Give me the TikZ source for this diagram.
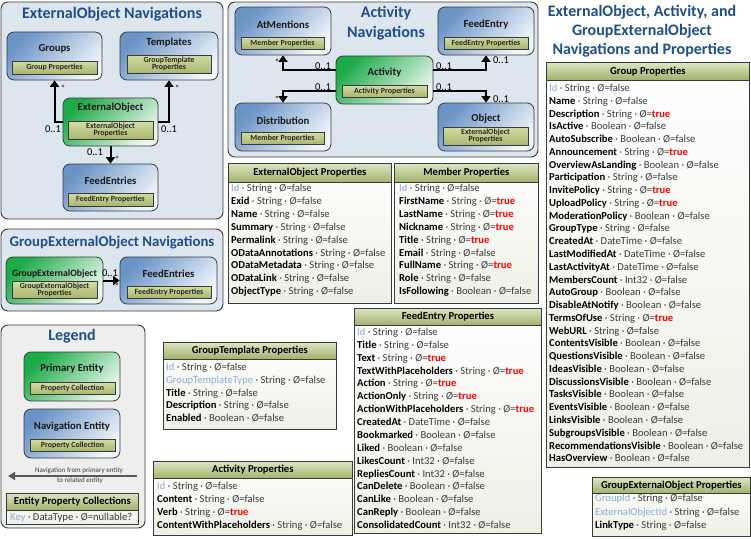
\documentclass[tikz,border=0pt]{standalone}
\usepackage{fontspec}
\setmainfont{Carlito}
\usetikzlibrary{arrows.meta}
\definecolor{ttl}{HTML}{1F4E8C}
\definecolor{keyc}{HTML}{8EA9DB}
\definecolor{dg}{HTML}{3A3A3A}
\definecolor{panelbg}{HTML}{DDE5EF}
\definecolor{legbg}{HTML}{EEEEEE}
\definecolor{navdark}{HTML}{6A93C6}
\definecolor{navlight}{HTML}{F0F5FA}
\definecolor{primdark}{HTML}{1DAA48}
\definecolor{primlight}{HTML}{E8F6EC}
\definecolor{olivetop}{HTML}{D3DDA6}
\definecolor{olivebot}{HTML}{A8B66C}
\definecolor{hdrtop}{HTML}{DCE5C2}
\definecolor{hdrbot}{HTML}{A1B16B}
\definecolor{tabbot}{HTML}{EDF0E5}
\definecolor{bord}{HTML}{3A3A3A}
\newcommand\valF{\textcolor{dg}{false}}
\newcommand\valT{\textcolor{red}{\textbf{true}}}
\newcommand\KR[3]{\textcolor{keyc}{#1} \textcolor{dg}{· #2 · Ø=}#3}
\newcommand\PR[3]{\textbf{#1} \textcolor{dg}{· #2 · Ø=}#3}
\newcommand\ptab[7]{%
  \node[ptab, anchor=north west, minimum width={#4-#2}, minimum height={#5-#3}] (#1) at (#2,#3) {};
  \node[phdr, anchor=north west, minimum width={#4-#2}, minimum height=#6] (#1-h) at (#2,#3) {#7};}
\newcommand\rows[5]{%
  \foreach \t [count=\i from 0] in {#5} {\node[prow] (#1\i) at (#2,{#3+#4*\i}) {\t};}}
\begin{document}
\begin{tikzpicture}[x=1pt,y=-1pt,
 panel/.style={draw=bord, line width=0.9pt, rounded corners=7pt, fill=panelbg},
 ptitle/.style={font=\bfseries\fontsize{16}{19}\selectfont, text=ttl, align=center, inner sep=0},
 navbox/.style={draw=bord, line width=0.8pt, rounded corners=7pt, top color=navdark, bottom color=navlight, shading angle=45, inner sep=0},
 primbox/.style={draw=bord, line width=0.8pt, rounded corners=7pt, top color=primdark, bottom color=primlight, shading angle=45, inner sep=0},
 etitle/.style={font=\bfseries\fontsize{10.7}{13}\selectfont, text=black!90, inner sep=0},
 ibox/.style={draw=bord, line width=0.6pt, top color=olivetop, bottom color=olivebot, font=\bfseries\fontsize{7.9}{7}\selectfont, align=center, inner sep=0, text=black!85},
 nav/.style={line width=2pt, -{Triangle[length=6.5pt,width=9pt]}},
 lbl/.style={font=\fontsize{10.5}{12}\selectfont, inner sep=0},
 star/.style={font=\fontsize{9}{10}\selectfont, inner sep=0},
 ptab/.style={draw=bord, line width=0.8pt, top color=white, bottom color=tabbot, inner sep=0},
 phdr/.style={draw=bord, line width=0.8pt, top color=hdrtop, bottom color=hdrbot, inner sep=0, font=\bfseries\fontsize{10.6}{12}\selectfont},
 prow/.style={anchor=west, inner sep=0, font=\fontsize{10.6}{12}\selectfont, text height=7pt, text depth=2pt}
]
\useasboundingbox (0,0) rectangle (751,538);
\fill[white] (0,0) rectangle (751,538);

% ---------- ExternalObject Navigations
\draw[panel] (1,2) rectangle (223,219);
\node[ptitle] (t1) at (112,14) {ExternalObject Navigations};
\node[navbox, minimum width=95, minimum height=48] (groups) at (54.5,56) {};
\node[etitle] (groups-t) at (54.5,49) {Groups};
\node[ibox, minimum width=85, minimum height=13] (groups-p) at (54.5,67.5) {Group Properties};
\node[navbox, minimum width=98, minimum height=48] (templates) at (169,56) {};
\node[etitle] (templates-t) at (169,43) {Templates};
\node[ibox, minimum width=84, minimum height=18] (templates-p) at (169,64) {GroupTemplate\\Properties};
\node[primbox, minimum width=95, minimum height=48] (eo) at (110.5,122) {};
\node[etitle] (eo-t) at (110.5,108) {ExternalObject};
\node[ibox, minimum width=85, minimum height=18] (eo-p) at (110.5,130) {ExternalObject\\Properties};
\node[navbox, minimum width=95, minimum height=47] (fe1) at (110.5,187.5) {};
\node[etitle] (fe1-t) at (110.5,181) {FeedEntries};
\node[ibox, minimum width=85, minimum height=13] (fe1-p) at (110.5,199.5) {FeedEntry Properties};
\draw[nav] (eo.west) -| (groups.south);
\draw[nav] (eo.east) -| (templates.south);
\draw[nav] (eo.south) -- (fe1.north);
\node[lbl] (l1) at (53,129) {0..1};
\node[star] (s1) at (63,88) {*};
\node[lbl] (l2) at (169,129) {0..1};
\node[star] (s2) at (177,88) {*};
\node[lbl] (l3) at (95,152) {0..1};
\node[star] (s3) at (117,159) {*};

% ---------- Activity Navigations
\draw[panel] (228,2) rectangle (538,157);
\node[ptitle, font=\bfseries\fontsize{16}{20}\selectfont] (t2) at (386,23) {Activity\\Navigations};
\node[navbox, minimum width=96, minimum height=48] (atm) at (283,31) {};
\node[etitle] (atm-t) at (283,25) {AtMentions};
\node[ibox, minimum width=83, minimum height=12] (atm-p) at (282.5,43) {Member Properties};
\node[navbox, minimum width=96, minimum height=48] (fe) at (486,31) {};
\node[etitle] (fe-t) at (486,25) {FeedEntry};
\node[ibox, minimum width=84, minimum height=12] (fe-p) at (486,43) {FeedEntry Properties};
\node[primbox, minimum width=97, minimum height=48] (act) at (384.5,80) {};
\node[etitle] (act-t) at (384.5,73) {Activity};
\node[ibox, minimum width=85, minimum height=12] (act-p) at (384.5,91.5) {Activity Properties};
\node[navbox, minimum width=96, minimum height=48] (dist) at (283,127) {};
\node[etitle] (dist-t) at (283,121) {Distribution};
\node[ibox, minimum width=83, minimum height=12] (dist-p) at (282.5,138.5) {Member Properties};
\node[navbox, minimum width=96, minimum height=48] (obj) at (486,127) {};
\node[etitle] (obj-t) at (486,119) {Object};
\node[ibox, minimum width=85, minimum height=18] (obj-p) at (485.5,136) {ExternalObject\\Properties};
\draw[nav] ([yshift=10pt]act.west) -| (atm.south);
\draw[nav] ([yshift=-11pt]act.west) -| (dist.north);
\draw[nav] ([yshift=10pt]act.east) -| (fe.south);
\draw[nav] ([yshift=-11pt]act.east) -| (obj.north);
\node[lbl] (l4) at (323,66) {0..1};
\node[star] (s4) at (277,62) {*};
\node[lbl] (l5) at (323,87) {0..1};
\node[star] (s5) at (277,99) {*};
\node[lbl] (l6) at (444,66) {0..1};
\node[lbl] (l7) at (501,60) {0..1};
\node[lbl] (l8) at (444,87) {0..1};
\node[lbl] (l9) at (501,99) {0..1};

% ---------- GroupExternalObject Navigations
\draw[panel] (1,229) rectangle (223,311);
\node[ptitle, font=\bfseries\fontsize{14.8}{18}\selectfont] (t3) at (112,243) {GroupExternalObject Navigations};
\node[primbox, minimum width=97, minimum height=47] (geo) at (54.5,280.5) {};
\node[etitle, font=\bfseries\fontsize{9.7}{12}\selectfont] (geo-t) at (54.5,274) {GroupExternalObject};
\node[ibox, minimum width=85, minimum height=17] (geo-p) at (54.5,289.5) {GroupExternalObject\\Properties};
\node[navbox, minimum width=97, minimum height=47] (fe2) at (168.5,280.5) {};
\node[etitle] (fe2-t) at (168.5,274) {FeedEntries};
\node[ibox, minimum width=84, minimum height=12] (fe2-p) at (169,292) {FeedEntry Properties};
\draw[nav] (geo.east) -- (fe2.west);
\node[lbl] (l10) at (110,273) {0..1};
\node[star] (s10) at (117,286) {*};

% ---------- Legend
\draw[panel, fill=legbg] (1,325) rectangle (145,528);
\node[ptitle] (t4) at (72,336) {Legend};
\node[primbox, minimum width=96, minimum height=49] (prim) at (72,376.5) {};
\node[etitle] (prim-t) at (72,369) {Primary Entity};
\node[ibox, minimum width=85, minimum height=12] (prim-p) at (72.5,388.5) {Property Collection};
\node[navbox, minimum width=96, minimum height=49] (navi) at (72,433.5) {};
\node[etitle] (navi-t) at (72,427) {Navigation Entity};
\node[ibox, minimum width=85, minimum height=12] (navi-p) at (72.5,445) {Property Collection};
\coordinate (la) at (137,476);
\coordinate (lb) at (8,476);
\draw[line width=2pt, draw=black!65, -{Triangle[length=7pt,width=8pt]}] (la) -- (lb);
\node[font=\fontsize{7}{8}\selectfont, text=dg, inner sep=0] (legt1) at (79,470.5) {Navigation from primary entity};
\node[font=\fontsize{7}{8}\selectfont, text=dg, inner sep=0] (legt2) at (80,480.5) {to related entity};
\ptab{epc}{6}{493}{138}{524}{17}{Entity Property Collections}
\node[prow] (epc0) at (10,518) {\KR{Key}{DataType}{\textcolor{dg}{nullable?}}};

% ---------- Right title
\node[ptitle] (t5) at (642,31) {ExternalObject, Activity, and\\GroupExternalObject\\Navigations and Properties};

% ---------- Property tables
\ptab{eop}{228}{163}{391}{303}{19}{ExternalObject Properties}
\rows{eop}{231}{189}{12.9}{{\KR{Id}{String}{\valF}},{\PR{Exid}{String}{\valF}},{\PR{Name}{String}{\valF}},{\PR{Summary}{String}{\valF}},{\PR{Permalink}{String}{\valF}},{\PR{ODataAnnotations}{String}{\valF}},{\PR{ODataMetadata}{String}{\valF}},{\PR{ODataLink}{String}{\valF}},{\PR{ObjectType}{String}{\valF}}}

\ptab{mp}{394}{163}{538}{303}{19}{Member Properties}
\rows{mp}{399}{189}{12.9}{{\KR{Id}{String}{\valF}},{\PR{FirstName}{String}{\valT}},{\PR{LastName}{String}{\valT}},{\PR{Nickname}{String}{\valT}},{\PR{Title}{String}{\valT}},{\PR{Email}{String}{\valF}},{\PR{FullName}{String}{\valT}},{\PR{Role}{String}{\valF}},{\PR{IsFollowing}{Boolean}{\valF}}}

\ptab{gp}{546}{62}{749}{467}{18}{Group Properties}
\rows{gp}{549}{89}{12.77}{{\KR{Id}{String}{\valF}},{\PR{Name}{String}{\valF}},{\PR{Description}{String}{\valT}},{\PR{IsActive}{Boolean}{\valF}},{\PR{AutoSubscribe}{Boolean}{\valF}},{\PR{Announcement}{String}{\valT}},{\PR{OverviewAsLanding}{Boolean}{\valF}},{\PR{Participation}{String}{\valF}},{\PR{InvitePolicy}{String}{\valT}},{\PR{UploadPolicy}{String}{\valT}},{\PR{ModerationPolicy}{Boolean}{\valF}},{\PR{GroupType}{String}{\valF}},{\PR{CreatedAt}{DateTime}{\valF}},{\PR{LastModifiedAt}{DateTime}{\valF}},{\PR{LastActivityAt}{DateTime}{\valF}},{\PR{MembersCount}{Int32}{\valF}},{\PR{AutoGroup}{Boolean}{\valF}},{\PR{DisableAtNotify}{Boolean}{\valF}},{\PR{TermsOfUse}{String}{\valT}},{\PR{WebURL}{String}{\valF}},{\PR{ContentsVisible}{Boolean}{\valF}},{\PR{QuestionsVisible}{Boolean}{\valF}},{\PR{IdeasVisible}{Boolean}{\valF}},{\PR{DiscussionsVisible}{Boolean}{\valF}},{\PR{TasksVisible}{Boolean}{\valF}},{\PR{EventsVisible}{Boolean}{\valF}},{\PR{LinksVisible}{Boolean}{\valF}},{\PR{SubgroupsVisible}{Boolean}{\valF}},{\PR{RecommendationsVisible}{Boolean}{\valF}},{\PR{HasOverview}{Boolean}{\valF}}}

\ptab{gtp}{163}{342}{336}{429}{17}{GroupTemplate Properties}
\rows{gtp}{166}{368}{12.8}{{\KR{Id}{String}{\valF}},{\KR{GroupTemplateType}{String}{\valF}},{\PR{Title}{String}{\valF}},{\PR{Description}{String}{\valF}},{\PR{Enabled}{Boolean}{\valF}}}

\ptab{ap}{153}{461}{352}{535}{17}{Activity Properties}
\rows{ap}{157}{487}{13}{{\KR{Id}{String}{\valF}},{\PR{Content}{String}{\valF}},{\PR{Verb}{String}{\valT}},{\PR{ContentWithPlaceholders}{String}{\valF}}}

\ptab{fp}{354}{308}{541}{533}{17}{FeedEntry Properties}
\rows{fp}{357}{333}{12.87}{{\KR{Id}{String}{\valF}},{\PR{Title}{String}{\valF}},{\PR{Text}{String}{\valT}},{\PR{TextWithPlaceholders}{String}{\valT}},{\PR{Action}{String}{\valT}},{\PR{ActionOnly}{String}{\valT}},{\PR{ActionWithPlaceholders}{String}{\valT}},{\PR{CreatedAt}{DateTime}{\valF}},{\PR{Bookmarked}{Boolean}{\valF}},{\PR{Liked}{Boolean}{\valF}},{\PR{LikesCount}{Int32}{\valF}},{\PR{RepliesCount}{Int32}{\valF}},{\PR{CanDelete}{Boolean}{\valF}},{\PR{CanLike}{Boolean}{\valF}},{\PR{CanReply}{Boolean}{\valF}},{\PR{ConsolidatedCount}{Int32}{\valF}}}

\ptab{gop}{592}{477}{750}{536}{16}{GroupExternalObject Properties}
\rows{gop}{595}{499}{13.5}{{\KR{GroupId}{String}{\valF}},{\KR{ExternalObjectId}{String}{\valF}},{\PR{LinkType}{String}{\valF}}}
\end{tikzpicture}
\end{document}
